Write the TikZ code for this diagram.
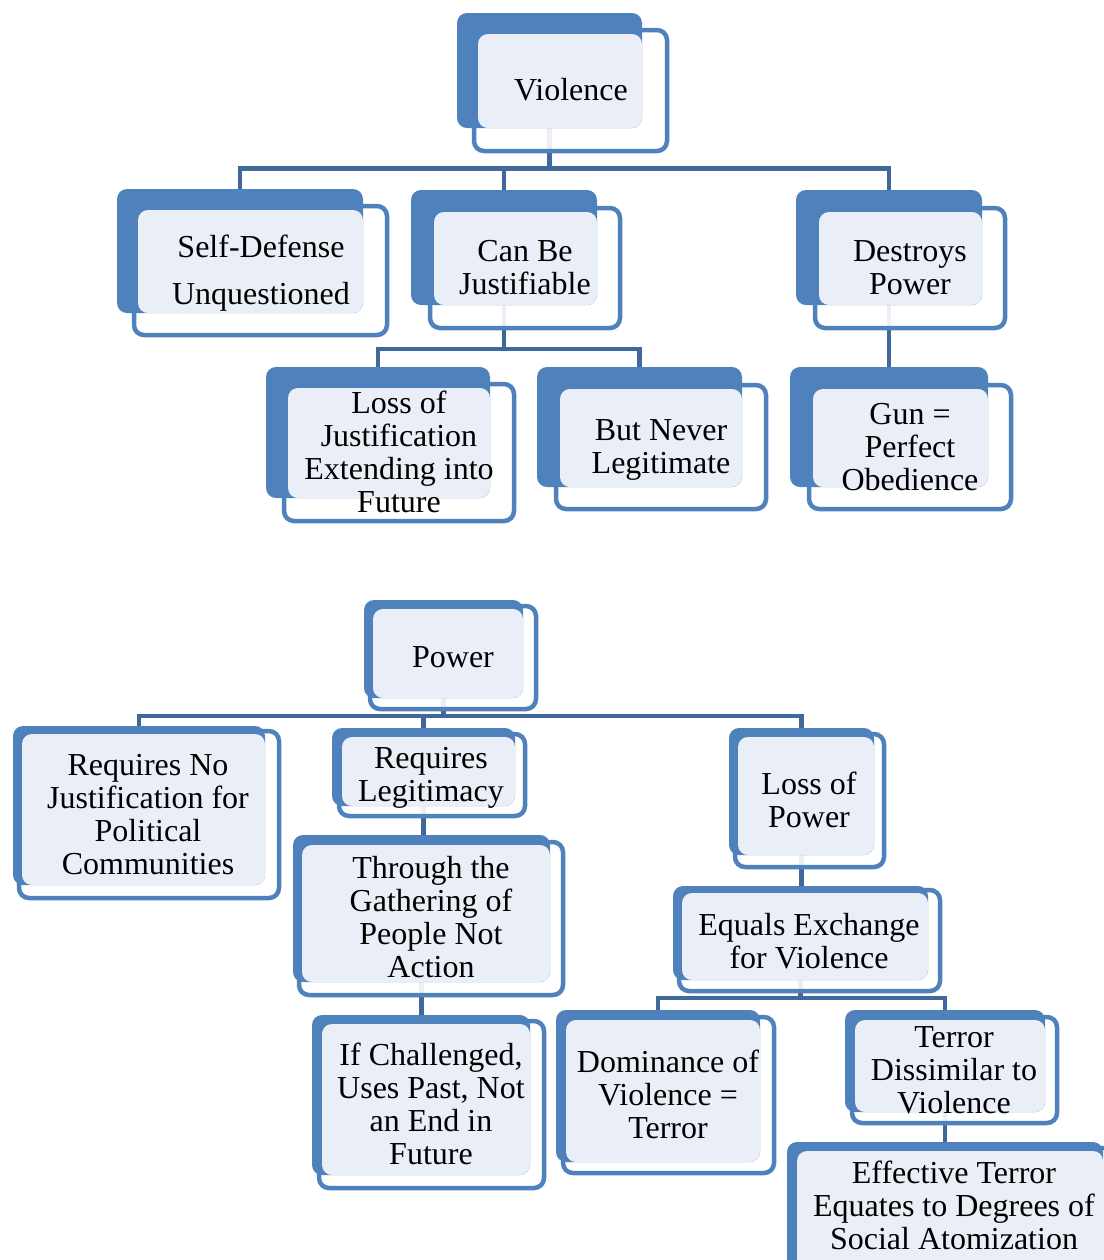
\documentclass[tikz,border=0pt]{standalone}
\usepackage{fontspec}
\setmainfont{Liberation Serif}
\usetikzlibrary{fit}
\pgfdeclarelayer{background}
\pgfsetlayers{background,main}
\definecolor{boxblue}{RGB}{79,129,189}
\definecolor{linkblue}{RGB}{65,104,154}
\definecolor{boxfill}{RGB}{234,239,247}

\tikzset{
  frame/.style={draw=boxblue, line width=2.25pt, fill=white, fill opacity=0.9, rounded corners=5pt},
  back/.style={fill=boxblue, draw=none, rounded corners=5pt, inner sep=0pt, outer sep=0pt},
  lite/.style={fill=boxfill, rounded corners=5pt},
  label/.style={font=\rmfamily\fontsize{16pt}{16.5pt}\selectfont, align=center, text=black, inner sep=0pt},
  link/.style={draw=linkblue, line width=2.25pt, line join=miter},
}

% #1 name, #2/#3 corners of the solid back plate, #4/#5 outlined frame, #6 top-left of the tinted face
\newcommand\stackbox[6]{%
  \path[frame] #4 rectangle #5;
  \node[back, fit={#2 #3}] (#1) {};
  \path[lite] #6 rectangle #3;
}

\begin{document}
\begin{tikzpicture}[x=0.5pt, y=-0.5pt]
\useasboundingbox (0,0) rectangle (1104,1260);
\clip (0,0) rectangle (1104,1260);

% ---------- Violence tree ----------
\stackbox{vio}{(457,13)}{(642,128)}{(474,30)}{(667,151)}{(478,34)}
\stackbox{sd}{(117,189)}{(363,313)}{(134,206)}{(387,335)}{(138,210)}
\stackbox{cbj}{(411,190)}{(597,305)}{(430,208)}{(620,328)}{(434,212)}
\stackbox{dp}{(796,190)}{(982,305)}{(815,208)}{(1005,328)}{(819,212)}
\stackbox{loj}{(266,367)}{(490,498)}{(284,384)}{(514,521)}{(288,388)}
\stackbox{bnl}{(537,367)}{(742,487)}{(556,385)}{(766,509)}{(560,389)}
\stackbox{gun}{(790,367)}{(988,487)}{(809,385)}{(1011,509)}{(813,389)}

\node[label] (vio-t) at (571,90) {Violence};
\node[label] (sd-t) at (261,273.5) {Self-Defense\\[7pt]Unquestioned};
\node[label] (cbj-t) at (525,267.5) {Can Be\\Justifiable};
\node[label] (dp-t) at (910,267.5) {Destroys\\Power};
\node[label] (loj-t) at (399,452) {Loss of\\Justification\\Extending into\\Future};
\node[label] (bnl-t) at (661,449.5) {But Never\\Legitimate};
\node[label] (gun-t) at (910,447) {Gun =\\Perfect\\Obedience};

% ---------- Power tree ----------
\stackbox{pow}{(364,600)}{(523,698)}{(370,606)}{(536,709)}{(373,609)}
\stackbox{rnj}{(13,726)}{(265,885)}{(19,731)}{(279,898)}{(22,734)}
\stackbox{rl}{(332,728)}{(515,806)}{(339,734)}{(525,816)}{(342,737)}
\stackbox{lop}{(729,728)}{(874,855)}{(735,734)}{(884,867)}{(738,737)}
\stackbox{tg}{(293,835)}{(550,982)}{(299,842)}{(563,995)}{(302,845)}
\stackbox{eq}{(673,886)}{(928,980)}{(679,890)}{(940,991)}{(682,893)}
\stackbox{ic}{(312,1015)}{(530,1175)}{(319,1021)}{(544,1188)}{(322,1024)}
\stackbox{dom}{(556,1010)}{(760,1162)}{(563,1017)}{(774,1173)}{(566,1020)}
\stackbox{td}{(845,1010)}{(1045,1112)}{(852,1017)}{(1057,1123)}{(855,1020)}
\stackbox{et}{(787,1142)}{(1103,1300)}{(794,1148)}{(1115,1310)}{(797,1151)}

\node[label] (pow-t) at (453,657) {Power};
\node[label] (rnj-t) at (148,814.5) {Requires No\\Justification for\\Political\\Communities};
\node[label] (rl-t) at (431,778) {Requires\\Legitimacy};
\node[label] (lop-t) at (809,800) {Loss of\\Power};
\node[label] (tg-t) at (431,917.5) {Through the\\Gathering of\\People Not\\Action};
\node[label] (eq-t) at (809,941.5) {Equals Exchange\\for Violence};
\node[label] (ic-t) at (431,1104) {If Challenged,\\Uses Past, Not\\an End in\\Future};
\node[label] (dom-t) at (668,1094.5) {Dominance of\\Violence =\\Terror};
\node[label] (td-t) at (954,1070) {Terror\\Dissimilar to\\Violence};
\node[label] (et-t) at (954,1205) {Effective Terror\\Equates to Degrees of\\Social Atomization};

% ---------- connectors ----------
\begin{pgfonlayer}{background}
  \coordinate (busA) at (0,168.5);
  \coordinate (busB) at (0,349);
  \coordinate (busC) at (0,716);
  \coordinate (busD) at (0,998);

  \draw[link] (vio.south) -- (vio.south |- busA);
  \draw[link] (sd.north) -- (sd.north |- busA) -- (dp.north |- busA) -- (dp.north);
  \draw[link] (cbj.north) -- (cbj.north |- busA);
  \draw[link] (cbj.south) -- (cbj.south |- busB);
  \draw[link] (loj.north) -- (loj.north |- busB) -- (bnl.north |- busB) -- (bnl.north);
  \draw[link] (dp.south) -- (dp.south |- gun.north);

  \draw[link] (pow.south) -- (pow.south |- busC);
  \draw[link] (rnj.north) -- (rnj.north |- busC) -- (lop.north |- busC) -- (lop.north);
  \draw[link] (rl.north) -- (rl.north |- busC);
  \draw[link] (rl.south) -- (rl.south |- tg.north);
  \draw[link] (tg.south) -- (tg.south |- ic.north);
  \draw[link] (lop.south) -- (lop.south |- eq.north);
  \draw[link] (eq.south) -- (eq.south |- busD);
  \draw[link] (dom.north) -- (dom.north |- busD) -- (td.north |- busD) -- (td.north);
  \draw[link] (td.south) -- (td.south |- et.north);
\end{pgfonlayer}
\end{tikzpicture}
\end{document}
